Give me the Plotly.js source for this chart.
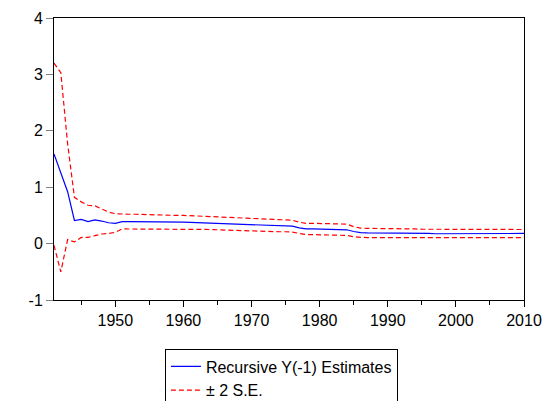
<!DOCTYPE html>
<html>
<head>
<meta charset="utf-8">
<script src="https://cdn.plot.ly/plotly-3.0.1.min.js"></script>
<style>html,body{margin:0;padding:0;background:#fff;}#chart{width:550px;height:401px;}</style>
</head>
<body>
<div id="chart"></div>
<script>
var years = [];
for (var y = 1941; y <= 2010; y++) years.push(y);

var estimates = [
  1.59, 1.27, 0.92, 0.41, 0.43, 0.39, 0.42, 0.40, 0.37, 0.36,
  0.39, 0.39, 0.39, 0.39, 0.385, 0.385, 0.38, 0.38, 0.38, 0.38,
  0.375, 0.37, 0.37, 0.365, 0.36, 0.35, 0.345, 0.34, 0.335, 0.33,
  0.325, 0.32, 0.32, 0.32, 0.315, 0.31, 0.28, 0.26, 0.26, 0.255,
  0.255, 0.25, 0.25, 0.245, 0.215, 0.195, 0.19, 0.19, 0.185, 0.185,
  0.185, 0.18, 0.18, 0.18, 0.18, 0.18, 0.175, 0.175, 0.175, 0.175,
  0.175, 0.175, 0.17, 0.17, 0.17, 0.17, 0.17, 0.17, 0.175, 0.18
];

var upperBand = [
  3.20, 3.03, 1.77, 0.82, 0.74, 0.68, 0.67, 0.62, 0.56, 0.53,
  0.52, 0.52, 0.52, 0.515, 0.51, 0.51, 0.505, 0.505, 0.50, 0.50,
  0.495, 0.49, 0.485, 0.48, 0.475, 0.465, 0.455, 0.45, 0.445, 0.44,
  0.435, 0.43, 0.43, 0.425, 0.42, 0.415, 0.38, 0.36, 0.36, 0.355,
  0.355, 0.35, 0.35, 0.345, 0.30, 0.275, 0.27, 0.27, 0.265, 0.265,
  0.265, 0.26, 0.26, 0.26, 0.255, 0.255, 0.255, 0.25, 0.25, 0.25,
  0.25, 0.25, 0.245, 0.245, 0.245, 0.245, 0.245, 0.245, 0.245, 0.25
];

var lowerBand = [
  -0.03, -0.50, 0.07, 0.03, 0.11, 0.11, 0.14, 0.17, 0.18, 0.20,
  0.26, 0.26, 0.26, 0.26, 0.26, 0.26, 0.26, 0.26, 0.26, 0.26,
  0.255, 0.25, 0.25, 0.25, 0.245, 0.24, 0.235, 0.23, 0.225, 0.22,
  0.215, 0.21, 0.21, 0.21, 0.21, 0.205, 0.18, 0.16, 0.16, 0.155,
  0.155, 0.15, 0.15, 0.145, 0.12, 0.11, 0.105, 0.105, 0.105, 0.105,
  0.105, 0.10, 0.10, 0.10, 0.10, 0.10, 0.10, 0.10, 0.10, 0.10,
  0.10, 0.10, 0.10, 0.10, 0.10, 0.10, 0.10, 0.10, 0.10, 0.105
];

var xTicks = [1950, 1960, 1970, 1980, 1990, 2000, 2010];
var xTickLabels = ["1950", "1960", "1970", "1980", "1990", "2000", "2010"];
var yTicks = [-1, 0, 1, 2, 3, 4];
var yTickLabels = ["-1", "0", "1", "2", "3", "4"];
var seriesNames = ["Recursive Y(-1) Estimates", "\u00b1 2 S.E."];

var FONT = "Arial, 'Liberation Sans', sans-serif";

var traces = [
  {x: years, y: estimates, name: seriesNames[0], type: "scatter", mode: "lines",
   line: {color: "#0000ff", width: 1.2}},
  {x: years, y: upperBand, name: seriesNames[1], type: "scatter", mode: "lines",
   line: {color: "#ff0000", width: 1.2, dash: "5px,3px"}},
  {x: years, y: lowerBand, name: seriesNames[1], type: "scatter", mode: "lines",
   line: {color: "#ff0000", width: 1.2, dash: "5px,3px"}, showlegend: false}
];

var layout = {
  width: 550, height: 401,
  margin: {l: 54, r: 26, t: 18, b: 101, pad: 0, autoexpand: false},
  paper_bgcolor: "#ffffff", plot_bgcolor: "#ffffff",
  font: {family: FONT, size: 16, color: "#000000"},
  showlegend: true,
  legend: {
    x: 0.236, y: -0.172, xanchor: "left", yanchor: "top",
    orientation: "v", bordercolor: "#000000", borderwidth: 1,
    bgcolor: "#ffffff", font: {family: FONT, size: 16, color: "#000000"},
    tracegroupgap: 0
  },
  xaxis: {
    range: [1941, 2010], tickmode: "array", tickvals: xTicks, ticktext: xTickLabels,
    showgrid: false, zeroline: false, showline: true, linecolor: "#000000", linewidth: 1,
    mirror: true, ticks: "outside", ticklen: 6, tickcolor: "#000000", tickwidth: 1,
    minor: {dtick: 5, tick0: 1945, ticks: "outside", ticklen: 4, tickcolor: "#000000", showgrid: false},
    tickfont: {family: FONT, size: 16, color: "#000000"}, fixedrange: true, automargin: false
  },
  yaxis: {
    range: [-1, 4], tickmode: "array", tickvals: yTicks, ticktext: yTickLabels,
    showgrid: false, zeroline: false, showline: true, linecolor: "#000000", linewidth: 1,
    mirror: true, ticks: "outside", ticklen: 7, tickcolor: "#808080", tickwidth: 1,
    tickfont: {family: FONT, size: 16, color: "#000000"}, fixedrange: true, automargin: false
  }
};

Plotly.newPlot("chart", traces, layout, {displayModeBar: false, staticPlot: true});
</script>
</body>
</html>
